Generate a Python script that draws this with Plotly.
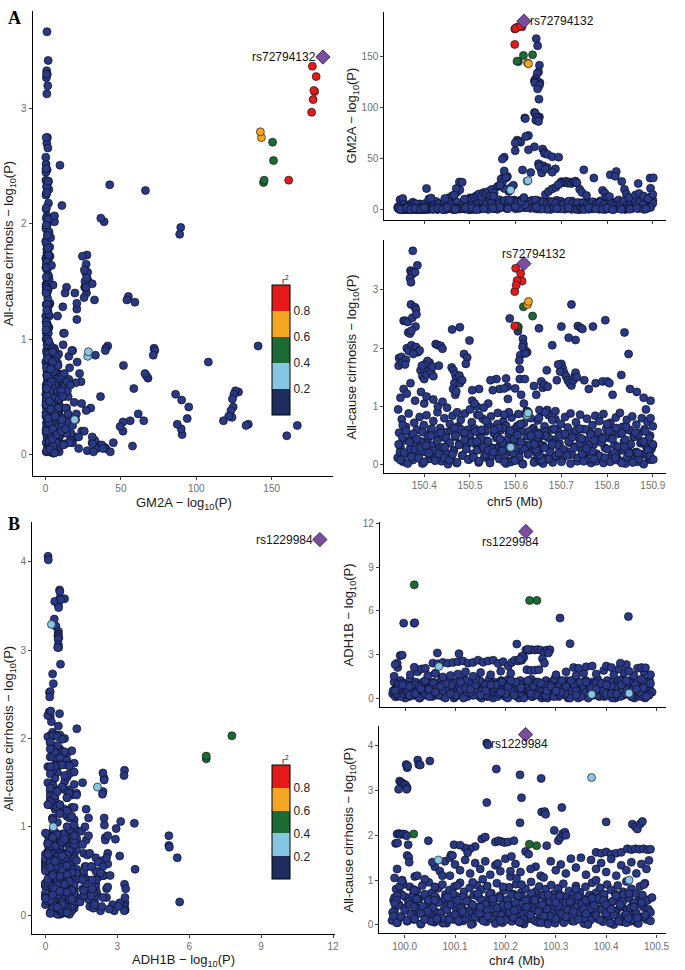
import plotly.graph_objects as go

# ---------------- locus A : chr5, GM2A eQTL vs all-cause cirrhosis ----------------
# rows are (position Mb, cirrhosis -log10P, GM2A -log10P)
A_LEAD = (150.618, 3.45, 184.0)
A_LEAD_NAME = "rs72794132"

# SNPs in LD with the lead: (pos, gwas, eqtl, r2)
A_LD = [
    (150.600, 3.37, 177.0, 0.92), (150.611, 3.28, 179.5, 0.95), (150.603, 3.16, 178.0, 0.90),
    (150.614, 3.15, 178.5, 0.88), (150.601, 3.08, 177.5, 0.91), (150.598, 2.97, 176.5, 0.86),
    (150.598, 2.38, 161.3, 0.83), (150.628, 2.80, 142.5, 0.70), (150.626, 2.75, 143.2, 0.68),
    (150.617, 2.71, 150.6, 0.50), (150.637, 2.55, 151.2, 0.45), (150.603, 2.38, 145.0, 0.50),
    (150.606, 2.36, 144.6, 0.48), (150.627, 0.89, 28.5, 0.30), (150.625, 0.85, 28.0, 0.28),
    (150.589, 0.30, 19.3, 0.25),
]

A_PEAK = [
    (150.645, 0.25, 167.0), (150.648, 0.16, 160.0), (150.652, 0.94, 141.0), (150.650, 0.26, 134.5),
    (150.647, 0.25, 133.0), (150.644, 0.54, 128.0), (150.641, 0.55, 126.0), (150.643, 0.52, 125.0),
    (150.653, 0.48, 124.0), (150.649, 0.41, 124.5), (150.646, 0.38, 123.0), (150.642, 0.32, 123.7),
    (150.652, 0.33, 121.5), (150.648, 0.29, 118.0), (150.651, 0.80, 108.0), (150.641, 0.41, 95.0),
    (150.643, 0.31, 94.0), (150.652, 0.17, 90.6), (150.648, 0.47, 90.3), (150.646, 0.22, 90.0),
    (150.620, 1.97, 89.7), (150.621, 1.91, 89.0), (150.644, 0.26, 87.4), (150.650, 0.52, 86.3),
    (150.625, 0.92, 72.0), (150.628, 0.90, 72.5), (150.622, 0.86, 71.5), (150.603, 0.66, 68.0),
    (150.607, 0.68, 67.0), (150.611, 0.70, 66.0), (150.605, 2.29, 66.3), (150.599, 0.29, 65.2),
    (150.641, 0.35, 61.5), (150.659, 1.32, 59.3), (150.628, 0.57, 58.6), (150.599, 0.07, 57.7),
    (150.663, 0.29, 56.2), (150.663, 1.37, 55.0), (150.670, 1.34, 54.0), (150.680, 0.77, 51.7),
    (150.694, 0.20, 51.4), (150.575, 0.28, 51.4), (150.571, 0.24, 49.5), (150.651, 2.34, 42.6),
    (150.669, 0.94, 41.3), (150.687, 0.92, 40.0), (150.665, 0.90, 39.7), (150.633, 0.50, 36.5),
    (150.615, 2.02, 38.9), (150.680, 2.05, 36.7), (150.582, 1.34, 32.5), (150.579, 1.48, 31.0),
    (150.575, 0.86, 33.1), (150.749, 0.06, 39.0), (150.771, 0.10, 31.0), (150.807, 0.05, 34.2),
    (150.820, 0.08, 37.4), (150.818, 0.12, 32.7), (150.832, 0.03, 27.7), (150.868, 0.20, 25.7),
    (150.894, 0.15, 31.0), (150.901, 0.09, 31.2), (150.405, 1.17, 20.8), (150.477, 1.53, 27.2),
    (150.483, 1.45, 27.0), (150.470, 1.26, 20.8), (150.466, 0.63, 14.3), (150.553, 0.60, 16.5),
    (150.551, 0.22, 13.3), (150.575, 1.31, 20.8), (150.568, 0.40, 30.0), (150.571, 0.38, 27.0),
    (150.566, 0.44, 24.0), (150.579, 0.02, 31.8), (150.575, 0.05, 38.0),
]

A_LOOP = [
    (150.700, 1.73, 27.5), (150.703, 1.65, 27.0), (150.706, 1.58, 26.5), (150.710, 1.52, 27.8),
    (150.714, 1.45, 26.0), (150.718, 1.40, 27.2), (150.722, 1.36, 25.6), (150.726, 1.45, 26.8),
    (150.729, 1.52, 27.6), (150.731, 1.58, 28.0), (150.734, 1.50, 26.2), (150.697, 1.60, 25.8),
    (150.693, 1.72, 24.5),
]

A_MID = [
    (150.500, 0.95, 11.7), (150.505, 1.28, 11.5), (150.510, 1.05, 12.5), (150.515, 0.40, 14.0),
    (150.520, 0.85, 15.5), (150.525, 0.60, 13.0), (150.530, 0.30, 17.0), (150.535, 0.75, 16.0),
    (150.540, 0.25, 18.0), (150.545, 1.45, 14.0), (150.548, 0.15, 20.0), (150.560, 0.70, 22.6),
    (150.563, 0.63, 23.6), (150.585, 0.90, 18.0), (150.590, 0.05, 22.0), (150.595, 0.20, 24.0),
    (150.665, 0.50, 15.0), (150.672, 0.10, 18.0), (150.680, 0.35, 20.5), (150.688, 0.15, 22.0),
    (150.740, 0.62, 20.0), (150.745, 0.18, 17.0), (150.755, 0.28, 14.0), (150.790, 0.45, 19.0),
    (150.795, 0.12, 16.5), (150.800, 0.70, 12.5), (150.805, 1.40, 13.0), (150.838, 0.30, 20.0),
    (150.842, 0.65, 15.5), (150.848, 0.20, 12.0), (150.862, 0.55, 14.5), (150.870, 0.10, 16.0),
    (150.880, 0.40, 13.5), (150.890, 0.25, 11.0), (150.895, 0.80, 21.0), (150.900, 0.35, 15.0),
    (150.455, 0.08, 12.0), (150.445, 0.30, 11.0), (150.462, 0.18, 14.0), (150.472, 0.90, 17.5),
    (150.478, 1.40, 19.5), (150.488, 0.55, 10.5), (150.410, 0.20, 10.5), (150.415, 0.50, 11.5),
    (150.650, 0.10, 45.0), (150.655, 0.05, 40.0), (150.660, 0.02, 43.0), (150.657, 0.08, 36.0),
]

A_HIGH = [
    (150.375, 3.67, 1.0), (150.370, 3.33, 0.8), (150.372, 3.30, 1.2), (150.374, 3.27, 0.6),
    (150.369, 3.20, 1.5), (150.371, 3.13, 0.9), (150.385, 3.42, 1.8), (150.380, 3.30, 0.7),
    (150.355, 2.47, 0.5), (150.359, 2.47, 1.1), (150.364, 2.45, 0.3), (150.371, 2.75, 1.3),
    (150.374, 2.52, 0.4), (150.380, 2.70, 0.9), (150.382, 2.66, 1.6), (150.383, 2.58, 0.2),
    (150.381, 2.37, 2.0), (150.365, 2.27, 0.7), (150.369, 2.25, 0.4), (150.372, 2.30, 2.2),
    (150.362, 2.00, 1.4), (150.366, 1.95, 0.9), (150.372, 2.05, 3.4), (150.378, 1.98, 0.5),
    (150.382, 2.02, 6.0), (150.386, 1.93, 1.8), (150.390, 1.96, 0.3), (150.376, 1.90, 2.5),
    (150.345, 1.83, 0.6), (150.344, 1.70, 1.9), (150.350, 1.85, 0.2), (150.352, 1.75, 1.0),
    (150.360, 1.80, 2.8), (150.358, 1.72, 0.8), (150.392, 1.62, 0.5), (150.396, 1.52, 1.2),
    (150.400, 1.47, 0.4), (150.405, 1.55, 2.0), (150.409, 1.65, 0.7), (150.412, 1.75, 1.5),
    (150.407, 1.78, 0.9), (150.401, 1.72, 3.0), (150.395, 1.70, 0.2), (150.415, 1.60, 1.1),
    (150.418, 1.68, 0.6), (150.420, 1.52, 2.4), (150.425, 2.07, 1.0), (150.430, 2.05, 0.5),
    (150.436, 2.04, 1.7), (150.440, 1.99, 0.6), (150.432, 1.70, 2.2), (150.461, 2.32, 0.8),
    (150.478, 2.36, 1.5), (150.499, 2.13, 0.4), (150.487, 1.90, 1.3), (150.494, 1.84, 0.6),
    (150.491, 1.73, 2.1), (150.460, 1.67, 0.9), (150.464, 1.62, 0.3), (150.468, 1.55, 1.8),
    (150.470, 1.48, 0.5), (150.466, 1.40, 1.0), (150.463, 1.30, 2.0), (150.468, 1.20, 0.7),
    (150.520, 1.30, 0.5), (150.558, 1.47, 1.0), (150.587, 2.51, 9.6), (150.565, 1.30, 2.5),
    (150.583, 1.13, 1.2), (150.616, 2.16, 10.9), (150.617, 2.07, 6.0), (150.610, 1.88, 3.4),
    (150.608, 1.79, 1.5), (150.625, 1.93, 2.4), (150.609, 1.64, 4.0), (150.609, 1.47, 2.0),
    (150.620, 1.47, 5.0), (150.599, 1.31, 3.0), (150.612, 1.20, 8.0), (150.618, 1.05, 12.0),
    (150.722, 2.75, 0.5), (150.700, 2.37, 1.0), (150.716, 2.18, 2.0), (150.731, 2.14, 0.6),
    (150.736, 2.38, 0.3), (150.742, 2.35, 1.2), (150.746, 2.33, 0.8), (150.769, 2.37, 1.7),
    (150.796, 2.48, 0.4), (150.838, 2.27, 0.9), (150.847, 1.90, 1.4), (150.831, 1.54, 0.5),
    (150.668, 1.62, 0.5), (150.690, 1.45, 1.2), (150.750, 1.45, 0.4), (150.760, 1.30, 2.2),
    (150.775, 1.40, 1.0), (150.790, 1.43, 0.6), (150.800, 1.43, 1.8), (150.812, 1.20, 0.2),
    (150.850, 1.30, 0.7), (150.865, 1.25, 1.6), (150.880, 1.15, 0.5), (150.895, 1.10, 2.3),
    (150.885, 0.95, 1.0), (150.640, 1.35, 1.5), (150.656, 1.43, 0.8), (150.645, 1.20, 2.6),
    (150.540, 1.05, 0.5), (150.550, 1.28, 1.6), (150.505, 1.10, 2.0), (150.515, 1.00, 0.4),
    (150.530, 0.98, 1.2), (150.355, 1.30, 1.0), (150.348, 1.15, 0.5), (150.362, 1.22, 2.0),
    (150.370, 1.40, 0.3), (150.380, 1.10, 1.4), (150.393, 1.25, 0.8), (150.400, 1.05, 1.9),
    (150.420, 1.12, 0.6), (150.430, 1.00, 1.3), (150.440, 1.08, 0.4), (150.450, 0.98, 2.2),
]

A_BAND = [
    (150.342, 0.12, 2.1), (150.345, 0.55, 0.8), (150.348, 0.30, 4.5), (150.351, 0.78, 1.2), (150.354, 0.05, 6.8),
    (150.357, 0.42, 0.3), (150.360, 0.65, 3.2), (150.363, 0.18, 1.7), (150.366, 0.88, 5.1), (150.369, 0.27, 0.6),
    (150.372, 0.50, 2.8), (150.375, 0.08, 7.5), (150.378, 0.72, 1.0), (150.381, 0.35, 3.9), (150.384, 0.60, 0.4),
    (150.387, 0.15, 2.3), (150.390, 0.82, 5.8), (150.393, 0.40, 1.4), (150.396, 0.02, 3.6), (150.399, 0.68, 0.9),
    (150.402, 0.22, 4.2), (150.405, 0.85, 1.6), (150.408, 0.45, 7.0), (150.411, 0.10, 0.5), (150.414, 0.58, 2.6),
    (150.417, 0.33, 5.4), (150.420, 0.75, 1.1), (150.423, 0.14, 3.3), (150.426, 0.52, 8.2), (150.429, 0.90, 0.7),
    (150.432, 0.28, 2.0), (150.435, 0.63, 4.8), (150.438, 0.06, 1.3), (150.441, 0.47, 6.1), (150.444, 0.80, 0.2),
    (150.447, 0.20, 3.0), (150.450, 0.56, 1.8), (150.453, 0.38, 9.0), (150.456, 0.70, 2.4), (150.459, 0.11, 5.6),
    (150.462, 0.84, 1.5), (150.465, 0.25, 3.8), (150.468, 0.48, 0.6), (150.471, 0.03, 7.2), (150.474, 0.66, 2.2),
    (150.477, 0.36, 4.4), (150.480, 0.77, 1.0), (150.483, 0.16, 6.3), (150.486, 0.54, 3.1), (150.489, 0.88, 0.8),
    (150.492, 0.31, 5.0), (150.495, 0.60, 1.9), (150.498, 0.09, 3.5), (150.501, 0.44, 8.8), (150.504, 0.73, 2.7),
    (150.507, 0.19, 0.4), (150.510, 0.62, 4.6), (150.513, 0.35, 1.2), (150.516, 0.86, 6.7), (150.519, 0.04, 2.9),
    (150.522, 0.51, 9.5), (150.525, 0.26, 3.4), (150.528, 0.79, 1.7), (150.531, 0.13, 5.9), (150.534, 0.57, 2.1),
    (150.537, 0.41, 7.8), (150.540, 0.69, 0.9), (150.543, 0.07, 4.0), (150.546, 0.83, 2.5), (150.549, 0.29, 6.0),
    (150.552, 0.64, 1.3), (150.555, 0.17, 8.5), (150.558, 0.46, 3.7), (150.561, 0.89, 5.2), (150.564, 0.32, 9.8),
    (150.567, 0.59, 2.6), (150.570, 0.10, 7.4), (150.573, 0.74, 4.1), (150.576, 0.39, 6.5), (150.579, 0.67, 9.2),
    (150.582, 0.21, 5.3), (150.585, 0.53, 8.0), (150.588, 0.05, 3.0), (150.591, 0.81, 6.9), (150.594, 0.37, 4.7),
    (150.597, 0.61, 9.6), (150.600, 0.14, 7.1), (150.603, 0.49, 5.5), (150.606, 0.87, 8.7), (150.609, 0.24, 3.9),
    (150.612, 0.58, 6.4), (150.615, 0.02, 9.1), (150.618, 0.71, 4.3), (150.621, 0.34, 7.7), (150.624, 0.92, 5.8),
    (150.627, 0.18, 8.3), (150.630, 0.55, 3.2), (150.633, 0.80, 6.6), (150.636, 0.28, 9.4), (150.639, 0.63, 4.9),
    (150.642, 0.07, 7.3), (150.645, 0.45, 2.8), (150.648, 0.76, 5.7), (150.651, 0.20, 8.9), (150.654, 0.52, 3.6),
    (150.657, 0.90, 6.2), (150.660, 0.33, 1.9), (150.663, 0.66, 4.5), (150.666, 0.12, 7.9), (150.669, 0.48, 2.3),
    (150.672, 0.85, 5.0), (150.675, 0.26, 8.1), (150.678, 0.60, 3.3), (150.681, 0.04, 6.8), (150.684, 0.43, 1.6),
    (150.687, 0.78, 4.2), (150.690, 0.15, 9.3), (150.693, 0.57, 2.7), (150.696, 0.36, 5.9), (150.699, 0.70, 8.4),
    (150.702, 0.09, 3.1), (150.705, 0.50, 6.4), (150.708, 0.82, 1.4), (150.711, 0.23, 4.8), (150.714, 0.64, 7.6),
    (150.717, 0.38, 2.0), (150.720, 0.88, 5.3), (150.723, 0.17, 8.6), (150.726, 0.54, 3.7), (150.729, 0.31, 1.1),
    (150.732, 0.73, 6.0), (150.735, 0.06, 2.5), (150.738, 0.47, 4.9), (150.741, 0.86, 1.8), (150.744, 0.27, 7.0),
    (150.747, 0.61, 3.4), (150.750, 0.13, 5.6), (150.753, 0.42, 0.9), (150.756, 0.79, 8.0), (150.759, 0.22, 2.9),
    (150.762, 0.56, 4.4), (150.765, 0.03, 6.7), (150.768, 0.68, 1.2), (150.771, 0.35, 3.8), (150.774, 0.84, 7.3),
    (150.777, 0.19, 2.2), (150.780, 0.51, 5.1), (150.783, 0.75, 0.6), (150.786, 0.10, 9.0), (150.789, 0.44, 3.5),
    (150.792, 0.87, 1.7), (150.795, 0.29, 6.1), (150.798, 0.62, 4.0), (150.801, 0.08, 8.8), (150.804, 0.46, 2.4),
    (150.807, 0.72, 5.5), (150.810, 0.16, 1.0), (150.813, 0.58, 7.7), (150.816, 0.34, 3.2), (150.819, 0.81, 6.3),
    (150.822, 0.12, 2.6), (150.825, 0.53, 9.7), (150.828, 0.89, 4.6), (150.831, 0.25, 1.5), (150.834, 0.65, 7.1),
    (150.837, 0.40, 3.0), (150.840, 0.02, 5.8), (150.843, 0.77, 8.4), (150.846, 0.30, 2.1), (150.849, 0.59, 6.6),
    (150.852, 0.14, 4.3), (150.855, 0.83, 1.3), (150.858, 0.48, 7.5), (150.861, 0.21, 3.6), (150.864, 0.69, 9.9),
    (150.867, 0.05, 5.2), (150.870, 0.55, 2.0), (150.873, 0.37, 8.2), (150.876, 0.80, 4.7), (150.879, 0.18, 6.9),
    (150.882, 0.61, 1.9), (150.885, 0.32, 10.5), (150.888, 0.74, 3.4), (150.891, 0.09, 7.8), (150.894, 0.50, 12.0),
    (150.897, 0.27, 5.0), (150.900, 0.66, 9.3), (150.343, 0.95, 3.0), (150.347, 0.22, 9.8), (150.353, 0.68, 11.0),
]

A_BAND2 = [
    (150.344, 0.35, 1.5), (150.348, 0.08, 3.8), (150.352, 0.47, 0.9), (150.356, 0.21, 5.2), (150.360, 0.58, 2.0),
    (150.364, 0.02, 0.5), (150.368, 0.39, 4.1), (150.372, 0.14, 1.1), (150.376, 0.53, 6.3), (150.380, 0.26, 2.7),
    (150.384, 0.44, 0.7), (150.388, 0.11, 4.6), (150.392, 0.29, 2.2), (150.396, 0.56, 1.3), (150.400, 0.05, 5.9),
    (150.404, 0.33, 0.3), (150.408, 0.49, 3.0), (150.412, 0.18, 7.1), (150.416, 0.62, 1.8), (150.420, 0.24, 4.4),
    (150.424, 0.07, 2.5), (150.428, 0.41, 0.6), (150.432, 0.19, 6.0), (150.436, 0.55, 1.9), (150.440, 0.30, 3.3),
    (150.444, 0.12, 8.0), (150.448, 0.46, 0.4), (150.452, 0.01, 4.9), (150.456, 0.37, 2.1), (150.460, 0.59, 5.5),
    (150.464, 0.23, 1.2), (150.468, 0.50, 3.6), (150.472, 0.04, 7.4), (150.476, 0.34, 0.8), (150.480, 0.61, 2.9),
    (150.484, 0.16, 5.1), (150.488, 0.43, 1.6), (150.492, 0.27, 6.6), (150.496, 0.09, 3.9), (150.500, 0.52, 0.2),
    (150.504, 0.38, 4.7), (150.508, 0.13, 2.3), (150.512, 0.57, 0.5), (150.516, 0.25, 6.8), (150.520, 0.06, 3.1),
    (150.524, 0.45, 1.4), (150.528, 0.31, 8.3), (150.532, 0.60, 2.6), (150.536, 0.17, 5.0), (150.540, 0.40, 0.9),
    (150.544, 0.03, 3.5), (150.548, 0.28, 7.0), (150.552, 0.54, 1.7), (150.556, 0.20, 4.2), (150.560, 0.48, 0.6),
    (150.564, 0.10, 6.1), (150.568, 0.36, 2.4), (150.572, 0.63, 5.4), (150.576, 0.15, 9.0), (150.580, 0.42, 1.3),
    (150.584, 0.32, 6.7), (150.588, 0.58, 2.9), (150.592, 0.07, 8.6), (150.596, 0.44, 4.4), (150.600, 0.22, 1.0),
    (150.604, 0.51, 7.3), (150.608, 0.13, 3.8), (150.612, 0.39, 9.4), (150.616, 0.01, 5.6), (150.620, 0.27, 2.0),
    (150.624, 0.49, 4.0), (150.628, 0.18, 8.1), (150.632, 0.35, 1.5), (150.636, 0.60, 6.2), (150.640, 0.04, 3.2),
    (150.644, 0.41, 9.7), (150.648, 0.24, 0.8), (150.652, 0.55, 5.3), (150.656, 0.11, 2.7), (150.660, 0.30, 7.6),
    (150.664, 0.57, 1.9), (150.668, 0.09, 5.8), (150.672, 0.46, 3.4), (150.676, 0.21, 0.4), (150.680, 0.37, 7.9),
    (150.684, 0.62, 2.2), (150.688, 0.14, 6.5), (150.692, 0.33, 1.1), (150.696, 0.50, 4.6), (150.700, 0.05, 3.0),
    (150.704, 0.26, 5.1), (150.708, 0.53, 0.7), (150.712, 0.16, 3.7), (150.716, 0.40, 8.4), (150.720, 0.02, 2.5),
    (150.724, 0.47, 6.0), (150.728, 0.29, 1.4), (150.732, 0.59, 4.3), (150.736, 0.12, 7.2), (150.740, 0.36, 0.3),
    (150.744, 0.45, 2.8), (150.748, 0.19, 6.6), (150.752, 0.61, 1.0), (150.756, 0.08, 4.9), (150.760, 0.34, 0.5),
    (150.764, 0.52, 3.6), (150.768, 0.23, 8.0), (150.772, 0.42, 2.1), (150.776, 0.06, 5.7), (150.780, 0.56, 1.6),
    (150.784, 0.15, 7.0), (150.788, 0.38, 3.3), (150.792, 0.03, 0.9), (150.796, 0.49, 5.5), (150.800, 0.27, 2.4),
    (150.804, 0.58, 1.2), (150.808, 0.10, 6.9), (150.812, 0.44, 4.1), (150.816, 0.20, 0.6), (150.820, 0.63, 3.9),
    (150.824, 0.31, 1.8), (150.828, 0.07, 5.0), (150.832, 0.54, 2.9), (150.836, 0.25, 8.7), (150.840, 0.43, 0.4),
    (150.844, 0.13, 4.5), (150.848, 0.60, 2.0), (150.852, 0.35, 6.3), (150.856, 0.04, 3.1), (150.860, 0.48, 9.2),
    (150.864, 0.22, 4.8), (150.868, 0.51, 1.3), (150.872, 0.17, 7.7), (150.876, 0.39, 3.5), (150.880, 0.01, 5.9),
    (150.884, 0.57, 0.8), (150.888, 0.28, 10.2), (150.892, 0.46, 2.6), (150.896, 0.09, 13.0), (150.900, 0.33, 6.4),
]

# ---------------- locus B : chr4, ADH1B eQTL vs all-cause cirrhosis ----------------
B_LEAD = (100.240, 4.25, 11.45)
B_LEAD_NAME = "rs1229984"

B_LD = [
    (100.018, 2.03, 7.78, 0.50), (100.2475, 1.80, 6.71, 0.45), (100.262, 1.77, 6.71, 0.42),
    (100.371, 3.29, 0.25, 0.30), (100.067, 1.45, 2.17, 0.25), (100.4455, 1.00, 0.33, 0.22),
]

B_OUT = [
    (99.997, 0.90, 5.15), (100.018, 0.79, 5.15), (100.019, 0.77, 5.17), (100.308, 0.65, 5.50),
    (100.444, 0.15, 5.60), (100.328, 0.52, 3.74), (100.222, 1.04, 3.71),
    (100.240, 1.64, 3.30), (100.246, 1.58, 3.28), (100.252, 0.14, 3.32), (100.258, 0.10, 3.30),
    (100.264, 0.06, 3.33), (100.270, 0.05, 3.29), (100.276, 1.06, 3.14), (100.282, 0.35, 3.30),
    (100.288, 0.20, 3.32), (100.285, 0.67, 3.10), (100.236, 0.12, 2.80), (100.232, 0.05, 2.87),
    (100.228, 0.07, 2.66), (100.244, 0.30, 3.35),
    (100.242, 0.40, 1.95), (100.250, 0.22, 1.90), (100.258, 0.55, 1.92), (100.266, 0.30, 1.95),
    (100.273, 0.45, 2.70), (100.277, 0.20, 2.40), (100.064, 0.14, 3.10), (100.107, 0.10, 3.05),
    (99.990, 0.86, 2.92), (99.994, 0.98, 2.95), (99.984, 0.55, 2.40), (99.980, 0.48, 2.30),
]

B_SHELF = [
    (100.055, 1.40, 2.40), (100.065, 0.10, 2.35), (100.075, 1.10, 2.45), (100.085, 0.62, 2.40),
    (100.095, 1.55, 2.45), (100.105, 0.88, 2.50), (100.115, 0.30, 2.55), (100.125, 1.61, 2.40),
    (100.135, 0.45, 2.45), (100.145, 0.70, 2.60), (100.155, 1.02, 2.46), (100.165, 0.20, 2.55),
    (100.175, 0.58, 2.60), (100.185, 1.37, 2.38), (100.195, 0.85, 2.50), (100.205, 0.43, 2.20),
    (100.212, 1.53, 2.45), (100.218, 0.32, 2.60), (100.225, 0.65, 2.55), (100.232, 0.90, 2.60),
    (100.335, 0.30, 2.10), (100.345, 0.12, 2.05), (100.360, 0.25, 2.15), (100.372, 0.60, 2.20),
    (100.410, 0.35, 2.10), (100.425, 0.08, 2.00), (100.428, 0.45, 2.40), (100.462, 0.16, 2.05),
    (100.470, 0.50, 2.10), (100.478, 0.22, 2.08), (100.445, 0.70, 1.85), (100.018, 0.40, 2.12),
    (100.032, 0.25, 2.00), (100.040, 0.12, 2.05), (100.060, 0.55, 1.70),
]

B_MID = [
    (99.978, 0.20, 1.50), (99.985, 0.65, 2.10), (100.010, 0.45, 1.60), (100.025, 1.10, 1.80),
    (100.045, 0.30, 1.55), (100.060, 0.85, 1.70), (100.075, 0.15, 1.45), (100.090, 1.50, 1.55),
    (100.105, 0.55, 1.65), (100.120, 0.25, 1.80), (100.135, 0.95, 1.50), (100.150, 0.40, 1.75),
    (100.170, 0.70, 1.60), (100.190, 0.10, 1.85), (100.210, 1.20, 1.70), (100.300, 0.50, 1.60),
    (100.320, 0.18, 1.80), (100.340, 0.80, 1.55), (100.355, 0.35, 1.70), (100.380, 1.00, 1.65),
    (100.395, 0.55, 1.90), (100.415, 0.22, 1.60), (100.435, 0.68, 1.75), (100.455, 0.40, 1.55),
    (100.475, 0.90, 1.80), (100.488, 0.28, 1.60), (100.440, 0.05, 2.30), (100.400, 0.45, 2.20),
]

B_HIGH = [
    (100.163, 4.06, 0.11), (100.165, 4.02, 0.12), (100.003, 3.58, 0.59), (100.005, 3.51, 0.54),
    (100.006, 3.55, 0.39), (100.026, 3.68, 0.59), (100.028, 3.58, 0.80), (100.031, 3.57, 0.64),
    (100.050, 3.66, 0.60), (100.182, 3.48, 0.55), (100.229, 3.35, 0.37), (100.271, 3.27, 0.44),
    (99.990, 3.21, 0.54), (99.993, 3.18, 0.54), (99.996, 3.16, 0.52), (99.999, 3.14, 0.56),
    (100.002, 3.12, 0.53), (100.005, 3.06, 0.54), (99.988, 3.03, 0.55), (100.004, 3.03, 0.51),
    (100.232, 2.84, 0.63), (100.163, 2.73, 0.30), (100.312, 2.62, 0.33), (100.272, 2.52, 0.17),
    (100.278, 2.53, 0.20), (100.280, 2.47, 0.18), (100.229, 2.28, 0.59), (100.400, 2.30, 0.16),
    (100.452, 2.25, 0.20), (100.458, 2.19, 0.25), (100.462, 2.14, 0.54), (100.468, 2.26, 0.10),
    (100.472, 2.31, 0.22), (100.297, 2.11, 1.31), (100.305, 1.88, 0.40), (100.309, 1.95, 0.20),
    (100.314, 2.04, 0.60), (100.318, 2.07, 0.30), (100.320, 2.00, 0.80), (99.985, 2.03, 0.20),
    (99.989, 2.04, 0.40), (99.992, 2.02, 0.10), (99.997, 2.03, 0.30), (100.001, 2.02, 0.50),
    (100.004, 1.99, 0.70), (99.982, 1.82, 0.30), (99.986, 1.83, 0.90), (100.007, 1.79, 0.20),
    (100.047, 1.88, 0.60), (100.005, 1.55, 0.40), (100.008, 1.51, 0.80), (100.009, 1.40, 0.20),
    (99.985, 1.25, 0.60), (100.098, 1.79, 0.30), (100.092, 1.56, 0.90), (100.153, 1.92, 0.50),
    (100.160, 1.96, 0.20), (100.180, 1.85, 0.70), (100.186, 1.88, 0.30), (100.192, 1.86, 1.10),
    (100.198, 1.84, 0.40), (100.205, 1.85, 0.80), (100.217, 1.88, 0.20), (100.282, 1.77, 0.50),
    (100.140, 1.75, 0.90), (100.130, 1.70, 0.40), (100.120, 1.72, 1.20), (100.110, 1.78, 0.60),
    (100.380, 1.62, 0.50), (100.390, 1.60, 1.00), (100.400, 1.63, 0.30), (100.410, 1.58, 0.80),
    (100.420, 1.60, 0.20), (100.430, 1.62, 1.20), (100.442, 1.70, 0.60), (100.450, 1.68, 0.10),
    (100.458, 1.70, 0.90), (100.466, 1.69, 0.40), (100.474, 1.70, 0.70), (100.482, 1.68, 0.20),
    (100.488, 1.69, 1.00), (100.060, 1.30, 0.40), (100.080, 1.42, 1.00), (100.100, 1.35, 0.20),
    (100.120, 1.45, 0.70), (100.140, 1.38, 1.30), (100.160, 1.42, 0.50), (100.180, 1.33, 0.90),
    (100.200, 1.48, 0.30), (100.220, 1.36, 1.10), (100.260, 1.30, 0.20), (100.290, 1.42, 0.80),
    (100.310, 1.35, 0.40), (100.330, 1.48, 1.20), (100.350, 1.50, 0.10), (100.370, 1.45, 0.70),
    (100.390, 1.38, 1.00), (100.410, 1.47, 0.30), (100.430, 1.33, 0.90), (100.450, 1.40, 0.50),
    (100.470, 1.36, 1.30), (100.485, 1.44, 0.20), (100.070, 1.20, 0.80), (100.090, 1.10, 0.30),
    (100.110, 1.22, 1.10), (100.130, 1.15, 0.60), (100.150, 1.25, 0.20), (100.170, 1.12, 0.90),
    (100.190, 1.20, 0.40), (100.210, 1.08, 1.20), (100.230, 1.18, 0.70), (100.250, 1.25, 0.30),
    (100.270, 1.10, 1.00), (100.300, 1.22, 0.50), (100.320, 1.15, 0.80), (100.340, 1.28, 0.20),
    (100.360, 1.12, 1.10), (100.380, 1.25, 0.60), (100.400, 1.18, 0.90), (100.420, 1.10, 0.30),
    (100.440, 1.22, 1.20), (100.460, 1.15, 0.60), (100.480, 1.25, 0.10), (99.980, 1.05, 0.50),
    (99.995, 1.00, 0.90), (100.020, 1.08, 0.30), (100.040, 1.02, 1.20),
]

B_BAND = [
    (99.975, 0.10, 0.3), (99.978, 0.55, 1.1), (99.980, 0.32, 0.6), (99.983, 0.80, 0.1), (99.986, 0.05, 0.9),
    (99.989, 0.45, 0.4), (99.991, 0.70, 1.2), (99.994, 0.18, 0.2), (99.997, 0.92, 0.7), (100.000, 0.38, 1.0),
    (100.002, 0.62, 0.3), (100.005, 0.08, 0.8), (100.008, 0.50, 0.1), (100.010, 0.85, 1.3), (100.013, 0.25, 0.5),
    (100.016, 0.66, 0.9), (100.018, 0.12, 0.2), (100.021, 0.43, 1.1), (100.024, 0.76, 0.4), (100.027, 0.30, 0.7),
    (100.029, 0.58, 0.0), (100.032, 0.02, 1.0), (100.035, 0.88, 0.5), (100.037, 0.35, 0.8), (100.040, 0.64, 0.2),
    (100.043, 0.15, 1.2), (100.046, 0.48, 0.6), (100.048, 0.95, 0.3), (100.051, 0.22, 0.9), (100.054, 0.72, 0.1),
    (100.056, 0.40, 1.1), (100.059, 0.06, 0.4), (100.062, 0.60, 0.8), (100.064, 0.28, 0.2), (100.067, 0.82, 1.0),
    (100.070, 0.16, 0.6), (100.072, 0.52, 1.3), (100.075, 0.90, 0.1), (100.078, 0.34, 0.7), (100.081, 0.68, 0.4),
    (100.083, 0.04, 0.9), (100.086, 0.46, 0.3), (100.089, 0.78, 1.2), (100.091, 0.20, 0.5), (100.094, 0.56, 0.8),
    (100.097, 0.12, 0.0), (100.099, 0.86, 1.1), (100.102, 0.37, 0.6), (100.105, 0.63, 0.2), (100.108, 0.26, 1.0),
    (100.110, 0.94, 0.4), (100.113, 0.42, 0.9), (100.116, 0.09, 0.3), (100.118, 0.74, 1.3), (100.121, 0.31, 0.7),
    (100.124, 0.57, 0.1), (100.126, 0.19, 1.0), (100.129, 0.83, 0.5), (100.132, 0.47, 0.8), (100.135, 0.03, 0.2),
    (100.137, 0.67, 1.2), (100.140, 0.24, 0.6), (100.143, 0.89, 0.3), (100.145, 0.39, 0.9), (100.148, 0.61, 0.1),
    (100.151, 0.14, 1.1), (100.153, 0.79, 0.4), (100.156, 0.33, 0.8), (100.159, 0.54, 0.2), (100.162, 0.07, 1.0),
    (100.164, 0.87, 0.6), (100.167, 0.44, 1.3), (100.170, 0.21, 0.3), (100.172, 0.71, 0.7), (100.175, 0.36, 0.0),
    (100.178, 0.59, 1.1), (100.180, 0.11, 0.5), (100.183, 0.93, 0.9), (100.186, 0.27, 0.2), (100.189, 0.65, 0.8),
    (100.191, 0.41, 1.2), (100.194, 0.05, 0.4), (100.197, 0.77, 1.0), (100.199, 0.29, 0.1), (100.202, 0.53, 0.7),
    (100.205, 0.17, 1.3), (100.207, 0.84, 0.3), (100.210, 0.46, 0.9), (100.213, 0.08, 0.6), (100.216, 0.69, 0.2),
    (100.218, 0.35, 1.1), (100.221, 0.91, 0.5), (100.224, 0.13, 0.8), (100.226, 0.58, 0.0), (100.229, 0.25, 1.2),
    (100.232, 0.73, 0.6), (100.234, 0.40, 0.3), (100.237, 0.02, 1.0), (100.240, 0.81, 0.7), (100.243, 0.49, 0.2),
    (100.245, 0.18, 0.9), (100.248, 0.62, 0.4), (100.251, 0.96, 1.3), (100.253, 0.30, 0.1), (100.256, 0.55, 0.8),
    (100.259, 0.10, 0.5), (100.261, 0.75, 1.1), (100.264, 0.43, 0.2), (100.267, 0.86, 0.7), (100.270, 0.22, 1.0),
    (100.272, 0.66, 0.3), (100.275, 0.06, 0.9), (100.278, 0.50, 0.6), (100.280, 0.80, 1.2), (100.283, 0.33, 0.0),
    (100.286, 0.60, 0.8), (100.288, 0.15, 0.4), (100.291, 0.89, 1.1), (100.294, 0.38, 0.2), (100.297, 0.70, 0.9),
    (100.299, 0.04, 0.5), (100.302, 0.47, 1.3), (100.305, 0.82, 0.1), (100.307, 0.26, 0.7), (100.310, 0.57, 1.0),
    (100.313, 0.12, 0.3), (100.315, 0.92, 0.8), (100.318, 0.39, 0.5), (100.321, 0.64, 1.2), (100.324, 0.20, 0.0),
    (100.326, 0.76, 0.6), (100.329, 0.44, 1.1), (100.332, 0.09, 0.4), (100.334, 0.68, 0.9), (100.337, 0.31, 0.2),
    (100.340, 0.87, 1.3), (100.342, 0.51, 0.7), (100.345, 0.16, 0.1), (100.348, 0.73, 1.0), (100.351, 0.36, 0.5),
    (100.353, 0.59, 0.8), (100.356, 0.03, 0.3), (100.359, 0.85, 1.2), (100.361, 0.42, 0.6), (100.364, 0.23, 0.0),
    (100.367, 0.67, 0.9), (100.369, 0.11, 0.4), (100.372, 0.94, 1.1), (100.375, 0.48, 0.2), (100.378, 0.28, 0.8),
    (100.380, 0.72, 0.5), (100.383, 0.14, 1.3), (100.386, 0.55, 0.1), (100.388, 0.83, 0.7), (100.391, 0.37, 1.0),
    (100.394, 0.07, 0.3), (100.396, 0.63, 0.9), (100.399, 0.24, 0.6), (100.402, 0.90, 1.2), (100.405, 0.45, 0.2),
    (100.407, 0.19, 0.8), (100.410, 0.78, 0.4), (100.413, 0.52, 1.1), (100.415, 0.01, 0.6), (100.418, 0.69, 0.0),
    (100.421, 0.32, 1.0), (100.423, 0.88, 0.3), (100.426, 0.13, 0.9), (100.429, 0.58, 0.5), (100.432, 0.40, 1.3),
    (100.434, 0.74, 0.2), (100.437, 0.21, 0.7), (100.440, 0.97, 1.0), (100.442, 0.34, 0.4), (100.445, 0.61, 0.8),
    (100.448, 0.08, 1.2), (100.450, 0.81, 0.1), (100.453, 0.46, 0.6), (100.456, 0.27, 0.9), (100.459, 0.70, 0.3),
    (100.461, 0.05, 1.1), (100.464, 0.53, 0.5), (100.467, 0.86, 0.8), (100.469, 0.17, 0.2), (100.472, 0.62, 1.3),
    (100.475, 0.39, 0.6), (100.477, 0.93, 0.0), (100.480, 0.12, 0.9), (100.483, 0.56, 0.4), (100.486, 0.30, 1.2),
]

B_BAND2 = [
    (99.976, 0.28, 0.5), (99.980, 0.61, 0.1), (99.984, 0.05, 0.8), (99.988, 0.44, 0.3), (99.992, 0.19, 1.0),
    (99.996, 0.66, 0.6), (100.000, 0.33, 0.0), (100.004, 0.10, 0.9), (100.008, 0.52, 0.4), (100.012, 0.24, 0.7),
    (100.016, 0.47, 0.2), (100.020, 0.13, 0.9), (100.024, 0.58, 0.5), (100.028, 0.36, 0.0), (100.032, 0.02, 0.7),
    (100.036, 0.41, 1.1), (100.040, 0.69, 0.3), (100.044, 0.21, 0.6), (100.048, 0.55, 0.1), (100.052, 0.08, 0.8),
    (100.056, 0.39, 1.0), (100.060, 0.64, 0.4), (100.064, 0.16, 0.7), (100.068, 0.50, 0.2), (100.072, 0.27, 0.9),
    (100.076, 0.04, 0.5), (100.080, 0.59, 0.0), (100.084, 0.34, 1.2), (100.088, 0.12, 0.6), (100.092, 0.45, 0.3),
    (100.096, 0.70, 0.6), (100.100, 0.23, 0.1), (100.104, 0.48, 1.1), (100.108, 0.07, 0.8), (100.112, 0.37, 0.3),
    (100.116, 0.62, 0.0), (100.120, 0.15, 0.7), (100.124, 0.53, 0.4), (100.128, 0.30, 1.0), (100.132, 0.01, 0.5),
    (100.136, 0.42, 0.2), (100.140, 0.18, 0.8), (100.144, 0.65, 0.5), (100.148, 0.26, 1.2), (100.152, 0.56, 0.0),
    (100.156, 0.09, 0.6), (100.160, 0.46, 0.9), (100.164, 0.32, 0.3), (100.168, 0.68, 0.7), (100.172, 0.14, 1.0),
    (100.176, 0.51, 0.4), (100.180, 0.03, 0.9), (100.184, 0.38, 0.1), (100.188, 0.60, 0.7), (100.192, 0.22, 1.1),
    (100.196, 0.44, 0.3), (100.200, 0.11, 0.6), (100.204, 0.57, 0.0), (100.208, 0.29, 0.8), (100.212, 0.67, 0.5),
    (100.216, 0.17, 1.0), (100.220, 0.49, 0.2), (100.224, 0.35, 0.6), (100.228, 0.06, 0.9), (100.232, 0.63, 0.4),
    (100.236, 0.25, 0.0), (100.240, 0.54, 0.7), (100.244, 0.13, 1.2), (100.248, 0.40, 0.5), (100.252, 0.71, 0.1),
    (100.256, 0.31, 0.8), (100.260, 0.58, 0.3), (100.264, 0.10, 1.1), (100.268, 0.45, 0.6), (100.272, 0.20, 0.0),
    (100.276, 0.66, 0.5), (100.280, 0.37, 0.9), (100.284, 0.02, 0.2), (100.288, 0.52, 0.7), (100.292, 0.27, 1.0),
    (100.296, 0.60, 0.1), (100.300, 0.14, 0.7), (100.304, 0.43, 0.4), (100.308, 0.68, 0.9), (100.312, 0.24, 1.2),
    (100.316, 0.05, 0.6), (100.320, 0.50, 0.2), (100.324, 0.33, 0.8), (100.328, 0.19, 0.0), (100.332, 0.57, 0.5),
    (100.336, 0.08, 0.9), (100.340, 0.39, 0.5), (100.344, 0.64, 0.0), (100.348, 0.28, 1.1), (100.352, 0.47, 0.3),
    (100.356, 0.15, 0.7), (100.360, 0.55, 0.4), (100.364, 0.01, 1.0), (100.368, 0.36, 0.6), (100.372, 0.62, 0.2),
    (100.376, 0.44, 0.6), (100.380, 0.21, 1.0), (100.384, 0.59, 0.2), (100.388, 0.11, 0.8), (100.392, 0.34, 0.5),
    (100.396, 0.69, 0.1), (100.400, 0.26, 0.9), (100.404, 0.48, 0.3), (100.408, 0.04, 0.7), (100.412, 0.53, 0.0),
    (100.416, 0.30, 0.4), (100.420, 0.65, 0.8), (100.424, 0.16, 1.2), (100.428, 0.41, 0.1), (100.432, 0.07, 0.6),
    (100.436, 0.56, 0.9), (100.440, 0.23, 0.3), (100.444, 0.62, 0.5), (100.448, 0.38, 1.0), (100.452, 0.12, 0.7),
    (100.456, 0.50, 0.0), (100.460, 0.27, 0.6), (100.464, 0.03, 0.9), (100.468, 0.45, 0.3), (100.472, 0.67, 0.7),
    (100.476, 0.18, 1.1), (100.480, 0.54, 0.2), (100.484, 0.35, 0.8), (100.488, 0.09, 0.5), (100.491, 0.61, 0.4),
]

R2_TICKS = [0.2, 0.4, 0.6, 0.8]

NAVY = "#2a3984"
NAVY_KEY = "#1f2c5e"
LBLUE = "#87c6e3"
GREEN = "#1c6b35"
ORANGE = "#f4a623"
RED = "#e41a1c"
PURPLE = "#7b4d9e"
FONT = "Liberation Sans, Arial, sans-serif"

W, H = 685, 970


def px(x):
    return x / W


def py(y):
    return 1 - y / H


def col(rows, i):
    return [r[i] for r in rows]


R2_SCALE = [[0, NAVY_KEY], [0.2, NAVY_KEY], [0.2, LBLUE], [0.4, LBLUE], [0.4, GREEN],
            [0.6, GREEN], [0.6, ORANGE], [0.8, ORANGE], [0.8, RED], [1, RED]]

fig = go.Figure()


def add_locus(bg, ld, lead, axes, cax):
    ld = sorted(ld, key=lambda r: r[3])
    # (x column, y column) for each of the three views
    views = [(2, 1), (0, 2), (0, 1)]
    for (xa, ya), (xi, yi) in zip(axes, views):
        fig.add_trace(go.Scatter(
            x=col(bg, xi), y=col(bg, yi), mode="markers", xaxis=xa, yaxis=ya,
            marker=dict(size=8, color=NAVY, line=dict(color="#0b0f24", width=0.7)),
            hoverinfo="skip", showlegend=False))
        fig.add_trace(go.Scatter(
            x=col(ld, xi), y=col(ld, yi), mode="markers", xaxis=xa, yaxis=ya,
            marker=dict(size=8, color=col(ld, 3), coloraxis=cax,
                        line=dict(color="#1a1a1a", width=0.7)),
            showlegend=False))
        fig.add_trace(go.Scatter(
            x=[lead[xi]], y=[lead[yi]], mode="markers", xaxis=xa, yaxis=ya,
            marker=dict(size=11, symbol="diamond", color=PURPLE,
                        line=dict(color="#2a1a3a", width=0.8)),
            showlegend=False))


A_BG = A_BAND + A_BAND2 + A_HIGH + A_MID + A_LOOP + A_PEAK
B_BG = B_BAND + B_BAND2 + B_HIGH + B_MID + B_SHELF + B_OUT

add_locus(A_BG, A_LD, A_LEAD, [("x", "y"), ("x2", "y2"), ("x3", "y3")], "coloraxis")
add_locus(B_BG, B_LD, B_LEAD, [("x4", "y4"), ("x5", "y5"), ("x6", "y6")], "coloraxis2")

tick_font = dict(family=FONT, size=10, color="#6e6e6e")


def axis(domain, rng, tickvals, anchor, labels=True, fmt=None):
    d = dict(domain=domain, range=rng, tickvals=tickvals, anchor=anchor,
             showline=True, linecolor="black", linewidth=1.3, mirror=False,
             showgrid=False, zeroline=False, ticks="outside", ticklen=3,
             tickcolor="#444", tickwidth=1, tickfont=tick_font,
             showticklabels=labels, fixedrange=True)
    if fmt:
        d["tickformat"] = fmt
    return d


# pixel boxes of the six panels (left, right, top, bottom)
boxes = {
    "1": (33, 335, 7, 474),
    "2": (386.7, 670, 8, 216.7),
    "3": (386.7, 670, 236.7, 470.7),
    "4": (32.3, 336.7, 520, 934),
    "5": (382.3, 670, 520, 705.7),
    "6": (381.7, 670, 725, 933.3),
}


def dom(k):
    l, r, t, b = boxes[k]
    return [px(l), px(r)], [py(b), py(t)]


xr = {
    "1": ([-8.4, 190.7], [0, 50, 100, 150], True, None),
    "2": ([150.313, 150.929], [150.4, 150.5, 150.6, 150.7, 150.8, 150.9], False, None),
    "3": ([150.313, 150.929], [150.4, 150.5, 150.6, 150.7, 150.8, 150.9], True, ".1f"),
    "4": ([-0.555, 12.07], [0, 3, 6, 9, 12], True, None),
    "5": ([99.95, 100.519], [100.0, 100.1, 100.2, 100.3, 100.4, 100.5], False, None),
    "6": ([99.95, 100.519], [100.0, 100.1, 100.2, 100.3, 100.4, 100.5], True, ".1f"),
}
yr = {
    "1": ([-0.19, 3.85], [0, 1, 2, 3]),
    "2": ([-9.7, 193], [0, 50, 100, 150]),
    "3": ([-0.137, 3.86], [0, 1, 2, 3]),
    "4": ([-0.214, 4.45], [0, 1, 2, 3, 4]),
    "5": ([-0.6, 12.11], [0, 3, 6, 9, 12]),
    "6": ([-0.19, 4.44], [0, 1, 2, 3, 4]),
}

lay = {}
for k in boxes:
    xd, yd = dom(k)
    sfx = "" if k == "1" else k
    rng, tv, lab, fmt = xr[k]
    lay["xaxis" + sfx] = axis(xd, rng, tv, "y" + sfx, lab, fmt)
    lay["yaxis" + sfx] = axis(yd, yr[k][0], yr[k][1], "x" + sfx)

KEY_X, KEY_W = 273.3, 18
keys = [(281.7, 130, "coloraxis"), (764.3, 114, "coloraxis2")]
shapes = []
ann = []
for top, length, name in keys:
    lay[name] = dict(cmin=0, cmax=1, colorscale=R2_SCALE,
                     colorbar=dict(x=px(KEY_X), xanchor="left", y=py(top), yanchor="top",
                                   thickness=KEY_W, thicknessmode="pixels",
                                   len=length, lenmode="pixels", ypad=0, xpad=0,
                                   outlinewidth=1, outlinecolor="black", tickvals=R2_TICKS,
                                   ticks="", tickfont=dict(family=FONT, size=12, color="#222")))
    # thin black separators between the r2 bins
    for t in R2_TICKS:
        yy = top + (1 - t) * length
        shapes.append(dict(type="line", xref="paper", yref="paper",
                           x0=px(KEY_X), x1=px(KEY_X + KEY_W), y0=py(yy), y1=py(yy),
                           line=dict(color="black", width=1)))
    ann.append(dict(text="r<sup>2</sup>", x=px(KEY_X + 14), y=py(top - 5), xref="paper",
                    yref="paper", showarrow=False, xanchor="center", yanchor="middle",
                    font=dict(family=FONT, size=9, color="#222")))

title_font = dict(family=FONT, size=13, color="#1a1a1a")


def label(text, x, y, angle=0):
    ann.append(dict(text=text, x=px(x), y=py(y), xref="paper", yref="paper",
                    showarrow=False, textangle=angle, font=title_font,
                    xanchor="center", yanchor="middle"))


log = " \u2212 log<sub>10</sub>(P)"
label("GM2A" + log, 185, 502)
label("All-cause cirrhosis" + log, 9, 240, -90)
label("GM2A" + log, 355, 112, -90)
label("All-cause cirrhosis" + log, 355, 354, -90)
label("chr5 (Mb)", 518, 500)
label("ADH1B" + log, 185, 960)
label("All-cause cirrhosis" + log, 9, 727, -90)
label("ADH1B" + log, 352, 613, -90)
label("All-cause cirrhosis" + log, 352, 829, -90)
label("chr4 (Mb)", 520, 960)

for letter, yy in (("A", 14), ("B", 522)):
    ann.append(dict(text="<b>" + letter + "</b>", x=px(6), y=py(yy), xref="paper", yref="paper",
                    showarrow=False, xanchor="left", yanchor="middle",
                    font=dict(family="Liberation Serif, Times New Roman, serif", size=18, color="black")))

snp_font = dict(family=FONT, size=12, color="#111")


def snp(text, x, y, xa, ya, anchor, shift=0):
    ann.append(dict(text=text, x=x, y=y, xref=xa, yref=ya, showarrow=False,
                    xanchor=anchor, yanchor="middle", xshift=shift, font=snp_font))


snp(A_LEAD_NAME, A_LEAD[2], A_LEAD[1], "x", "y", "right", -5)
snp(A_LEAD_NAME, A_LEAD[0], A_LEAD[2], "x2", "y2", "left", 4)
snp(A_LEAD_NAME, 150.641, 3.61, "x3", "y3", "center")
snp(B_LEAD_NAME, B_LEAD[2], B_LEAD[1], "x4", "y4", "right", -5)
snp(B_LEAD_NAME, 100.21, 10.75, "x5", "y5", "center")
snp(B_LEAD_NAME, 100.228, 4.03, "x6", "y6", "center")

fig.update_layout(width=W, height=H, margin=dict(l=0, r=0, t=0, b=0),
                  paper_bgcolor="white", plot_bgcolor="white",
                  showlegend=False, annotations=ann, shapes=shapes, **lay)

fig.write_html("out.html", config={"displayModeBar": False},
               post_script="document.body.style.margin='0';")
